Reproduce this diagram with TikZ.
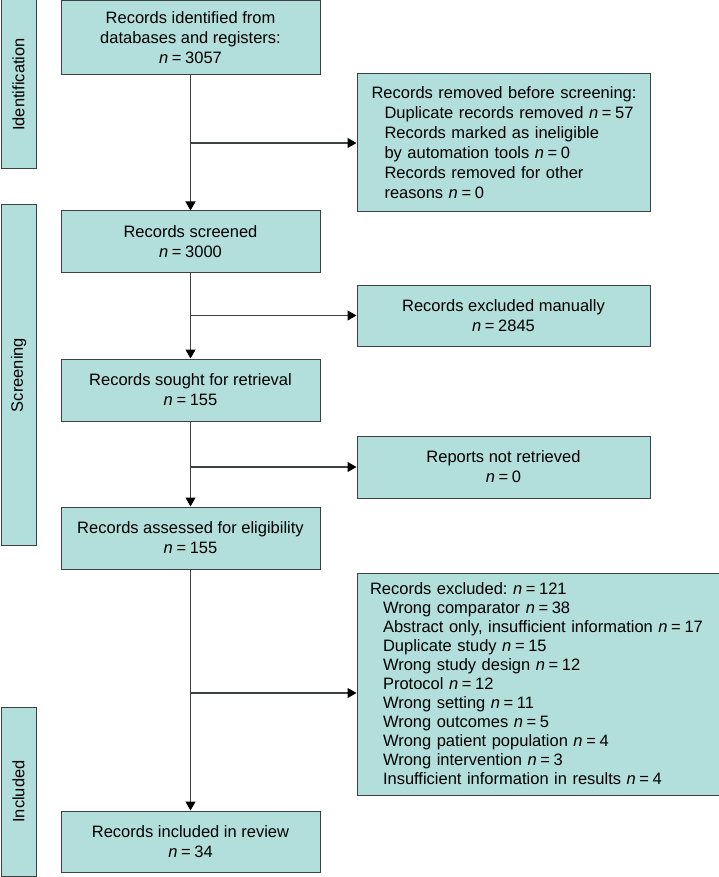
\documentclass[tikz,border=0pt]{standalone}
\usepackage{fontspec}
\setmainfont{Liberation Sans}
\usetikzlibrary{arrows.meta}
\definecolor{boxfill}{RGB}{178,223,219}
\definecolor{boxline}{RGB}{60,66,66}
\newcommand{\nval}[1]{\textit{n}\hspace{0.22em}=\hspace{0.22em}#1}
\newcommand{\ind}{\hspace*{13pt}}
\frenchspacing
\begin{document}
\begin{tikzpicture}[x=1pt,y=-1pt,
  box/.style={draw=boxline, fill=boxfill, line width=1pt, inner sep=0pt,
    font=\fontsize{16.5}{20}\selectfont, align=center},
  lbox/.style={box, align=left, inner ysep=0pt},
  side/.style={box, rotate=90, minimum height=35pt},
  conn/.style={draw=boxline, line width=1.1pt, -{Triangle[width=10pt,length=9pt,fill=black,color=black]}}
]
\useasboundingbox (0,0) rectangle (719,877);

% side labels
\node[side, minimum width=169pt] (sid) at (18.5,84.5) {Identification};
\node[side, minimum width=340pt] (sscr) at (18.5,375) {Screening};
\node[side, minimum width=169pt] (sinc) at (18.5,791.5) {Included};

% main column
\node[box, minimum width=259pt, minimum height=74pt] (idb) at (190.5,37.5)
  {Records identified from\\databases and registers:\\\nval{3057}};
\node[box, minimum width=259pt, minimum height=61pt] (scr) at (190.5,241.5)
  {Records screened\\\nval{3000}};
\node[box, minimum width=259pt, minimum height=62pt] (sou) at (190.5,390)
  {Records sought for retrieval\\\nval{155}};
\node[box, minimum width=259pt, minimum height=62pt] (ass) at (190.5,538)
  {Records assessed for eligibility\\\nval{155}};
\node[box, minimum width=259pt, minimum height=61pt] (inc) at (190.5,841.5)
  {Records included in review\\\nval{34}};

% right column
\node[lbox, text width=264pt, inner xsep=14.5pt, minimum height=138pt] (rem) at (503.5,143)
  {\mbox{Records removed before screening:}\\
   \mbox{\ind Duplicate records removed \nval{57}}\\
   \mbox{\ind Records marked as ineligible}\\
   \mbox{\ind by automation tools \nval{0}}\\
   \mbox{\ind Records removed for other}\\
   \mbox{\ind reasons \nval{0}}};
\node[box, minimum width=293pt, minimum height=61pt] (exm) at (503.5,315.5)
  {Records excluded manually\\\nval{2845}};
\node[box, minimum width=293pt, minimum height=62pt] (nret) at (503.5,467)
  {Reports not retrieved\\\nval{0}};
\node[lbox, text width=336pt, inner xsep=13pt, minimum height=222pt,
  font=\fontsize{16.5}{19}\selectfont] (exc) at (538,684)
  {\mbox{Records excluded: \nval{121}}\\
   \mbox{\ind Wrong comparator \nval{38}}\\
   \mbox{\ind Abstract only, insufficient information \nval{17}}\\
   \mbox{\ind Duplicate study \nval{15}}\\
   \mbox{\ind Wrong study design \nval{12}}\\
   \mbox{\ind Protocol \nval{12}}\\
   \mbox{\ind Wrong setting \nval{11}}\\
   \mbox{\ind Wrong outcomes \nval{5}}\\
   \mbox{\ind Wrong patient population \nval{4}}\\
   \mbox{\ind Wrong intervention \nval{3}}\\
   \mbox{\ind Insufficient information in results \nval{4}}};

% connectors
\draw[conn] (idb.south) -- (scr.north);
\draw[conn] (scr.south) -- (sou.north);
\draw[conn] (sou.south) -- (ass.north);
\draw[conn] (ass.south) -- (inc.north);
\draw[conn] (idb.south |- rem.west) -- (rem.west);
\draw[conn] (scr.south |- exm.west) -- (exm.west);
\draw[conn] (sou.south |- nret.west) -- (nret.west);
\coordinate (br4) at (190.5,693);
\draw[conn] (br4) -- (br4 -| exc.west);
\end{tikzpicture}
\end{document}
